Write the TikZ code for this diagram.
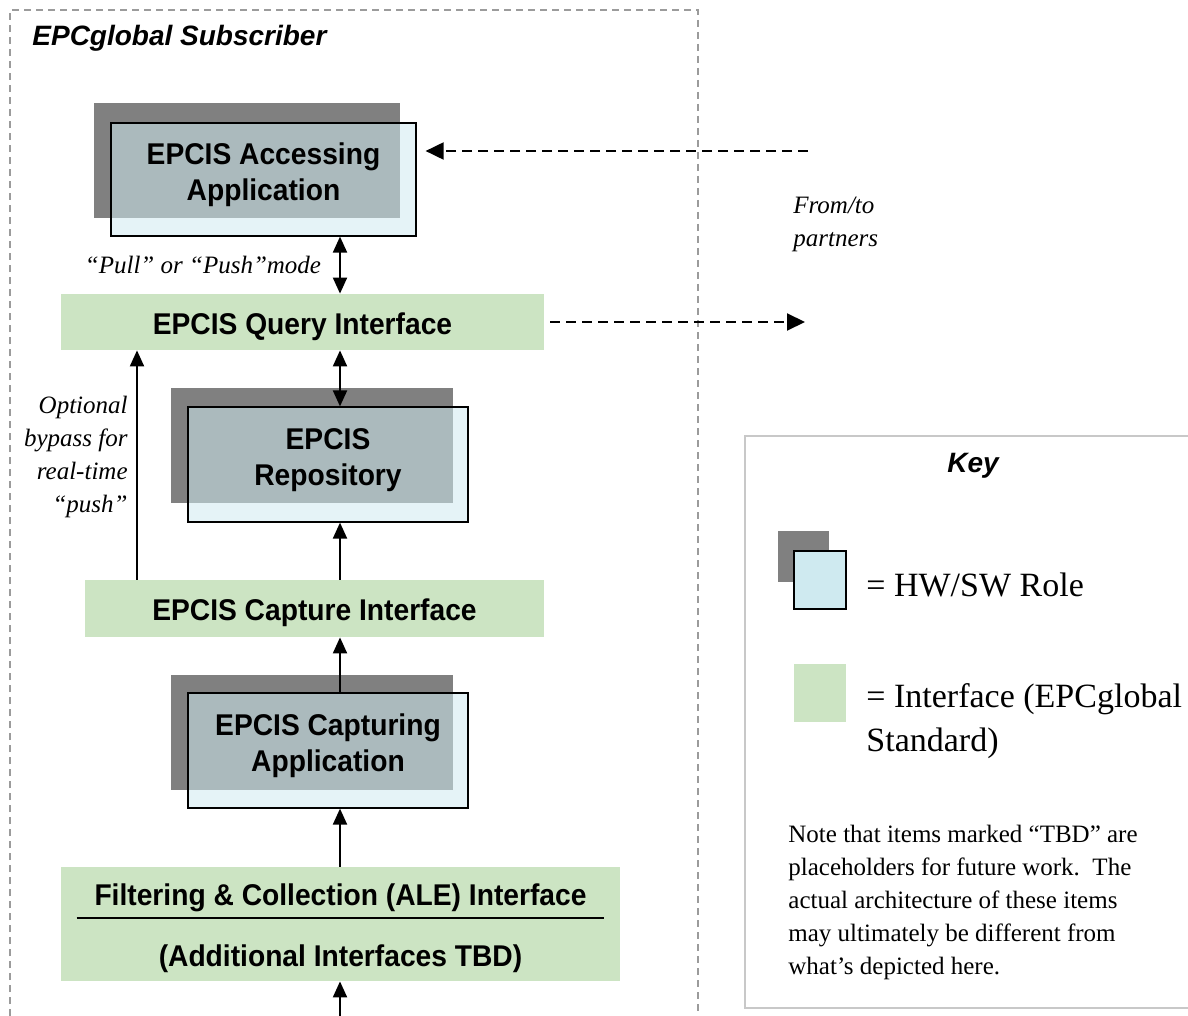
\documentclass[tikz,border=0pt]{standalone}
\usepackage{fontspec}
\setmainfont{Liberation Serif}
\setsansfont{Liberation Sans}
\newfontfamily\blocksans[FakeStretch=0.94]{Liberation Sans}
\usetikzlibrary{positioning, arrows.meta}

\definecolor{rolegrey}{RGB}{128,128,128}
\definecolor{rolecyan}{RGB}{207,234,240}
\definecolor{ifgreen}{RGB}{204,228,195}
\definecolor{framegrey}{RGB}{155,155,155}
\definecolor{keygrey}{RGB}{200,200,200}

\newcommand\blockfont{\blocksans\bfseries\fontsize{15pt}{18pt}\selectfont}
\newcommand\remarkfont{\itshape\fontsize{12.5pt}{16.5pt}\selectfont}
\newcommand\keyfont{\fontsize{17pt}{22pt}\selectfont}

\begin{document}
\begin{tikzpicture}[
    x=0.5pt, y=-0.5pt,
    shadebox/.style={fill=rolegrey, inner sep=0pt},
    rolebox/.style={draw, line width=0.6pt, fill=rolecyan, fill opacity=0.55, text opacity=1, inner sep=0pt, align=center, font=\blockfont,
      execute at end node=\rule[-7.5pt]{0pt}{7.5pt}},
    iface/.style={fill=ifgreen, inner sep=0pt, align=center, font=\blockfont,
      execute at begin node=\rule{0pt}{15.5pt}},
    flow/.style={-{Triangle[length=8pt, width=7pt]}, line width=1pt},
    twoway/.style={{Triangle[length=8pt, width=7pt]}-{Triangle[length=8pt, width=7pt]}, line width=1pt},
    partner/.style={-{Triangle[length=9pt, width=8.5pt]}, line width=1pt, dash pattern=on 5pt off 3pt},
    remark/.style={inner sep=0pt, font=\remarkfont},
]
  \useasboundingbox (0,0) rectangle (1188,1016);

  % subscriber frame
  \draw[framegrey, line width=0.6pt, dash pattern=on 3.5pt off 2.5pt] (10,1016) -- (10,10) -- (698,10) -- (698,1016);
  \node[inner sep=0pt, anchor=west, font=\sffamily\bfseries\itshape\fontsize{14pt}{17pt}\selectfont] (subscriber) at (32,38) {EPCglobal Subscriber};

  % roles and interfaces
  \node[shadebox, minimum width=153pt, minimum height=57.5pt] (accshade) at (247,160.5) {};
  \node[rolebox, minimum width=152.5pt, minimum height=56.5pt] (acc) at (263.5,179.5) {EPCIS Accessing\\Application};
  \node[iface, minimum width=241.5pt, minimum height=28pt] (query) at (302.5,322) {EPCIS Query Interface};
  \node[shadebox, minimum width=141pt, minimum height=57.5pt] (reposhade) at (312,445.5) {};
  \node[rolebox, minimum width=140pt, minimum height=57.5pt] (repo) at (328,464.5) {EPCIS\\Repository};
  \node[iface, minimum width=229.5pt, minimum height=28.5pt] (capture) at (314.5,608.5) {EPCIS Capture Interface};
  \node[shadebox, minimum width=141pt, minimum height=57.5pt] (capshade) at (312,732.5) {};
  \node[rolebox, minimum width=140pt, minimum height=57.5pt] (capapp) at (328,750.5) {EPCIS Capturing\\Application};
  \node[iface, minimum width=279.5pt, minimum height=57pt, font=\blocksans\bfseries\fontsize{15pt}{30.5pt}\selectfont] (filter) at (340.5,924) {\rule{0pt}{15.5pt}Filtering \& Collection (ALE) Interface\\(Additional Interfaces TBD)};
  \draw[line width=0.6pt] ([xshift=8pt, yshift=3pt]filter.west) -- ([xshift=-8pt, yshift=3pt]filter.east);

  % connectors
  \coordinate (spine) at (340,0);
  \coordinate (bypass) at (137,0);
  \coordinate (feed) at (340,1016);
  \draw[twoway] (acc.south -| spine) -- (query.north -| spine);
  \draw[twoway] (query.south -| spine) -- (repo.north -| spine);
  \draw[flow] (capture.north -| spine) -- (repo.south -| spine);
  \draw[flow] (capture.north -| bypass) -- (query.south -| bypass);
  \draw[flow] (capapp.north -| spine) -- (capture.south -| spine);
  \draw[flow] (filter.north -| spine) -- (capapp.south -| spine);
  \draw[flow] (feed) -- (filter.south -| spine);

  % partners
  \coordinate (fromptn) at (808,151);
  \coordinate (toptn) at (805,322);
  \draw[partner, shorten >=4.5pt] (fromptn) -- (acc.east |- fromptn);
  \draw[partner, shorten <=3pt] (query.east) -- (toptn);

  % remarks
  \node[remark] (pullpush) at (203,265) {“Pull” or “Push”mode};
  \node[remark, anchor=east, align=right] (bypasstxt) at (128,457) {Optional\\bypass for\\real-time\\“push”};
  \node[remark, anchor=west, align=left] (ptntxt) at (793,224.5) {From/to\\partners};

  % key
  \draw[keygrey, line width=0.8pt] (1190,436) -- (745,436) -- (745,1008) -- (1190,1008);
  \node[inner sep=0pt, font=\sffamily\bfseries\itshape\fontsize{14pt}{17pt}\selectfont] (keytitle) at (973,466) {Key};
  \node[shadebox, minimum size=25.5pt] (keyshade) at (803.5,556.5) {};
  \node[draw, line width=0.8pt, fill=rolecyan, inner sep=0pt, minimum width=26pt, minimum height=29pt] (keyrole) at (820,580) {};
  \node[fill=ifgreen, inner sep=0pt, minimum width=26pt, minimum height=29pt] (keyiface) at (820,693) {};
  \node[inner sep=0pt, anchor=west, font=\keyfont] (keyroletxt) at (866,585) {= HW/SW Role};
  \node[inner sep=0pt, anchor=west, align=left, font=\keyfont] (keyifacetxt) at (866,721) {= Interface (EPCglobal\\Standard)};
  \node[inner sep=0pt, anchor=west, align=left, font=\fontsize{12.5pt}{16.5pt}\selectfont] (keynote) at (788,902) {Note that items marked “TBD” are\\placeholders for future work.\ \ The\\actual architecture of these items\\may ultimately be different from\\what’s depicted here.};
\end{tikzpicture}
\end{document}
